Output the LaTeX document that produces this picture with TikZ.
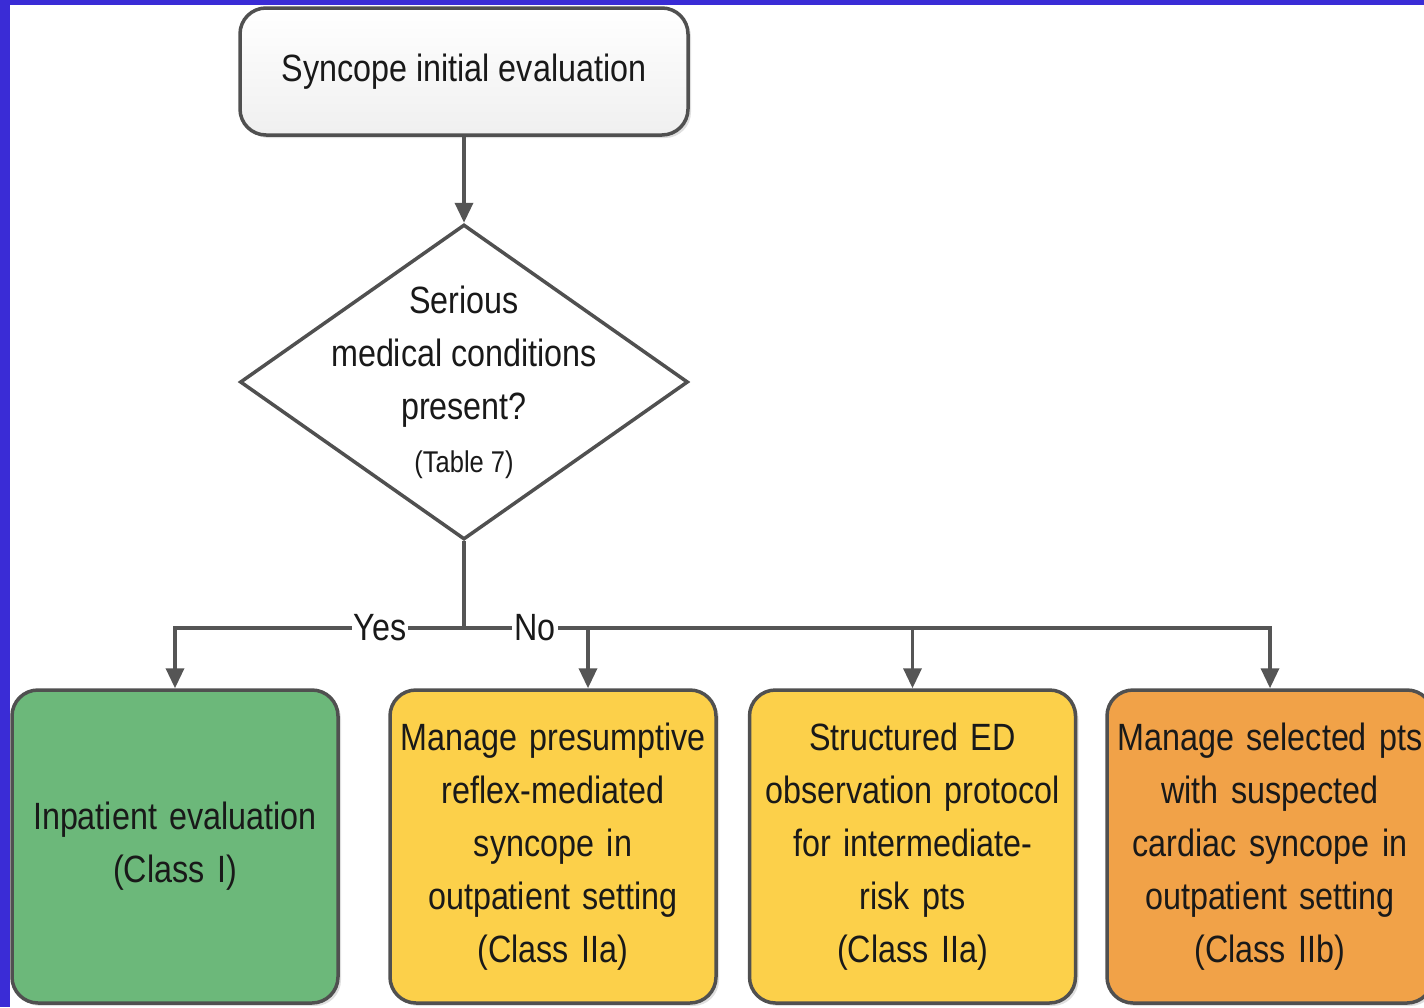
\documentclass[tikz,border=0pt]{standalone}
\usepackage{fontspec}
\setmainfont{Liberation Sans}[FakeStretch=0.85]
\usetikzlibrary{shapes.geometric,arrows.meta,shadows}
\definecolor{frameblue}{RGB}{58,44,214}
\definecolor{edgegray}{RGB}{80,80,80}
\definecolor{linegray}{RGB}{85,85,85}
\definecolor{boxgreen}{RGB}{108,184,122}
\definecolor{boxyellow}{RGB}{252,208,74}
\definecolor{boxorange}{RGB}{241,162,72}
\definecolor{txt}{RGB}{25,25,25}
\tikzset{
  boxbase/.style={draw=edgegray, line width=3.5pt, rounded corners=26pt, align=center,
    text=txt, font=\fontsize{38}{53}\selectfont, inner sep=0pt,
    drop shadow={shadow xshift=3pt, shadow yshift=-3pt, opacity=0.25}},
  outbox/.style={boxbase, minimum width=326pt, minimum height=313pt, text width=320pt},
  conn/.style={draw=linegray, line width=3.5pt, -{Triangle[length=20pt,width=18pt]}},
  branchlabel/.style={fill=white, inner sep=2pt, text=txt, font=\fontsize{38}{44}\selectfont}
}
\begin{document}
\begin{tikzpicture}[x=1pt,y=-1pt]
\useasboundingbox (0,0) rectangle (1424,1007);
\clip (0,0) rectangle (1424,1007);
\fill[white] (0,0) rectangle (1424,1007);
\fill[frameblue] (0,0) rectangle (10,1007);
\fill[frameblue] (0,0) rectangle (1424,5);

\node[boxbase, top color=white, bottom color=gray!12, minimum width=448pt, minimum height=127pt]
  (start) at (464,71.5) {Syncope initial evaluation};

\node[diamond, draw=edgegray, line width=3.5pt, fill=white, minimum width=448pt,
  minimum height=315pt, inner sep=0pt] (q) at (464,382) {};
\node[align=center, text=txt, font=\fontsize{38}{53}\selectfont] (qtext) at (464,382)
  {Serious\\medical conditions\\present?\\{\fontsize{30}{53}\selectfont (Table 7)}};

\node[outbox, fill=boxgreen] (b1) at (175,846.5) {Inpatient evaluation\\(Class I)};
\node[outbox, fill=boxyellow] (b2) at (553,846.5)
  {Manage presumptive\\reflex-mediated\\syncope in\\outpatient setting\\(Class IIa)};
\node[outbox, fill=boxyellow] (b3) at (912.5,846.5)
  {Structured ED\\observation protocol\\for intermediate-\\risk pts\\(Class IIa)};
\node[outbox, fill=boxorange] (b4) at (1270,846.5)
  {Manage selected pts\\with suspected\\cardiac syncope in\\outpatient setting\\(Class IIb)};

\coordinate (split) at (464,628);

\draw[conn] (start.south) -- (q.north);
\draw[draw=linegray, line width=3.5pt] (q.south) -- (split);
\draw[conn] (split) -| (b1.north);
\draw[conn] (split) -| ([xshift=35pt]b2.north);
\draw[conn] (split) -| (b3.north);
\draw[conn] (split) -| (b4.north);

\node[branchlabel] (yes) at (380,628) {Yes};
\node[branchlabel] (no) at (535,628) {No};
\end{tikzpicture}
\end{document}
